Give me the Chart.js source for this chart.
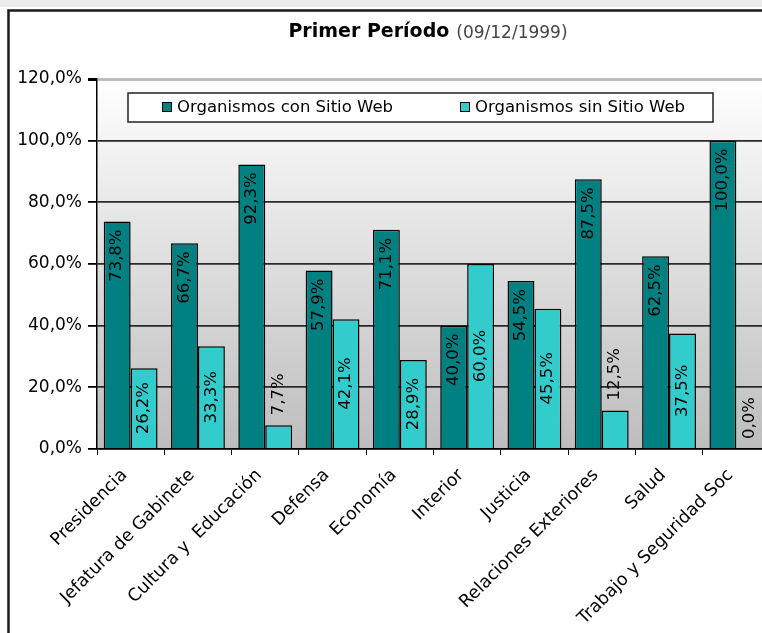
<!DOCTYPE html>
<html>
<head>
<meta charset="utf-8">
<title>Primer Período</title>
<script src="https://cdn.jsdelivr.net/npm/chart.js@4.4.1/dist/chart.umd.min.js"></script>
<style>
  html, body { margin: 0; padding: 0; background: #fff; overflow: hidden; }
  #wrap { width: 762px; height: 633px; overflow: hidden; }
  canvas { display: block; }
</style>
</head>
<body>
<div id="wrap"><canvas id="chart" width="790" height="633"></canvas></div>
<script>
const categories = [
  "Presidencia", "Jefatura de Gabinete", "Cultura y  Educación", "Defensa", "Economía",
  "Interior", "Justicia", "Relaciones Exteriores", "Salud", "Trabajo y Seguridad Soc"
];
const conSitio = [73.8, 66.7, 92.3, 57.9, 71.1, 40.0, 54.5, 87.5, 62.5, 100.0];
const sinSitio = [26.2, 33.3, 7.7, 42.1, 28.9, 60.0, 45.5, 12.5, 37.5, 0.0];
const seriesNames = ["Organismos con Sitio Web", "Organismos sin Sitio Web"];
const titleMain = "Primer Período";
const titleDate = "(09/12/1999)";

const FONT = "'DejaVu Sans', sans-serif";
const fmt = v => v.toFixed(1).replace(".", ",") + "%";

// fondo, marco, titulo y area con degradado
const backdrop = {
  id: "backdrop",
  beforeDraw(chart) {
    const { ctx, chartArea: a, width, height } = chart;
    ctx.save();
    ctx.fillStyle = "#ffffff";
    ctx.fillRect(0, 0, width, height);
    ctx.fillStyle = "#ececec";
    ctx.fillRect(0, 0, width, 7);

    const g = ctx.createLinearGradient(0, a.top, 0, a.bottom);
    g.addColorStop(0, "#ffffff");
    g.addColorStop(1, "#bdbdbd");
    ctx.fillStyle = g;
    ctx.fillRect(a.left, a.top, a.right - a.left, a.bottom - a.top);

    ctx.strokeStyle = "#1a1a1a";
    ctx.lineWidth = 2.5;
    ctx.beginPath();
    ctx.moveTo(width, 10.5);
    ctx.lineTo(8.5, 10.5);
    ctx.lineTo(8.5, height);
    ctx.stroke();

    // titulo
    ctx.textBaseline = "middle";
    ctx.font = "bold 19px " + FONT;
    const w1 = ctx.measureText(titleMain).width;
    ctx.font = "17px " + FONT;
    const w2 = ctx.measureText(titleDate).width;
    const x0 = 428 - (w1 + 7 + w2) / 2;
    ctx.textAlign = "left";
    ctx.font = "bold 19px " + FONT;
    ctx.fillStyle = "#000";
    ctx.fillText(titleMain, x0, 32);
    ctx.font = "17px " + FONT;
    ctx.fillStyle = "#444";
    ctx.fillText(titleDate, x0 + w1 + 7, 34);
    ctx.restore();
  }
};

// leyenda dentro del area
const boxLegend = {
  id: "boxLegend",
  afterDatasetsDraw(chart) {
    const { ctx } = chart;
    ctx.save();
    ctx.fillStyle = "#fff";
    ctx.fillRect(128, 93, 585, 29);
    ctx.strokeStyle = "#222";
    ctx.lineWidth = 1.5;
    ctx.strokeRect(128, 93, 585, 29);
    const xs = [162, 460];
    ctx.font = "16.5px " + FONT;
    ctx.textBaseline = "middle";
    ctx.textAlign = "left";
    chart.data.datasets.forEach((ds, i) => {
      ctx.fillStyle = ds.backgroundColor;
      ctx.fillRect(xs[i], 102, 10, 10);
      ctx.strokeStyle = "#000";
      ctx.lineWidth = 1;
      ctx.strokeRect(xs[i] + 0.5, 102.5, 9, 9);
      ctx.fillStyle = "#000";
      ctx.fillText(ds.label, xs[i] + 15, 108);
    });
    ctx.restore();
  }
};

// etiquetas de valor verticales
const valueLabels = {
  id: "valueLabels",
  afterDatasetsDraw(chart) {
    const { ctx } = chart;
    ctx.save();
    ctx.font = "16.5px " + FONT;
    ctx.fillStyle = "#000";
    ctx.textBaseline = "middle";
    chart.data.datasets.forEach((ds, di) => {
      const meta = chart.getDatasetMeta(di);
      meta.data.forEach((bar, i) => {
        const txt = fmt(ds.data[i]);
        const tw = ctx.measureText(txt).width;
        const top = bar.y, base = bar.base;
        ctx.save();
        if (di === 0) {
          ctx.translate(bar.x, top + 8);
          ctx.rotate(-Math.PI / 2);
          ctx.textAlign = "right";
        } else if (base - top > tw + 10) {
          ctx.translate(bar.x, (top + base) / 2);
          ctx.rotate(-Math.PI / 2);
          ctx.textAlign = "center";
        } else {
          ctx.translate(bar.x, top - 10);
          ctx.rotate(-Math.PI / 2);
          ctx.textAlign = "left";
        }
        ctx.fillText(txt, 0, 0);
        ctx.restore();
      });
    });
    ctx.restore();
  }
};

new Chart(document.getElementById("chart"), {
  type: "bar",
  data: {
    labels: categories,
    datasets: [
      {
        label: seriesNames[0],
        data: conSitio,
        backgroundColor: "#008080",
        borderColor: "#000",
        borderWidth: 1.5,
        categoryPercentage: 0.8,
        barPercentage: 1.0
      },
      {
        label: seriesNames[1],
        data: sinSitio,
        backgroundColor: "#33cccc",
        borderColor: "#000",
        borderWidth: 1.5,
        categoryPercentage: 0.8,
        barPercentage: 1.0
      }
    ]
  },
  options: {
    responsive: false,
    animation: false,
    layout: { padding: { top: 79, right: 20, bottom: 0, left: 0 } },
    plugins: {
      legend: { display: false },
      title: { display: false },
      tooltip: { enabled: false }
    },
    scales: {
      x: {
        grid: {
          drawOnChartArea: false,
          drawTicks: true,
          tickLength: 6,
          tickColor: "#000",
          offset: true
        },
        border: { color: "#000", width: 1.5 },
        ticks: {
          color: "#000",
          font: { family: "DejaVu Sans", size: 17.5 },
          minRotation: 45,
          maxRotation: 45,
          padding: 10,
          labelOffset: -6,
          autoSkip: false
        },
        afterFit(scale) { scale.height = 184; }
      },
      y: {
        min: 0,
        max: 120,
        ticks: {
          stepSize: 20,
          color: "#000",
          font: { family: "DejaVu Sans", size: 17 },
          padding: 6,
          callback: v => fmt(v)
        },
        grid: {
          color: c => (c.tick && c.tick.value === 120 ? "#bdbdbd" : "#2a2a2a"),
          lineWidth: c => (c.tick && c.tick.value === 120 ? 3 : 1.8),
          tickColor: "#000",
          tickLength: 9
        },
        border: { color: "#000", width: 1.5 },
        afterFit(scale) { scale.width = 97; }
      }
    }
  },
  plugins: [backdrop, valueLabels, boxLegend]
});
</script>
</body>
</html>
